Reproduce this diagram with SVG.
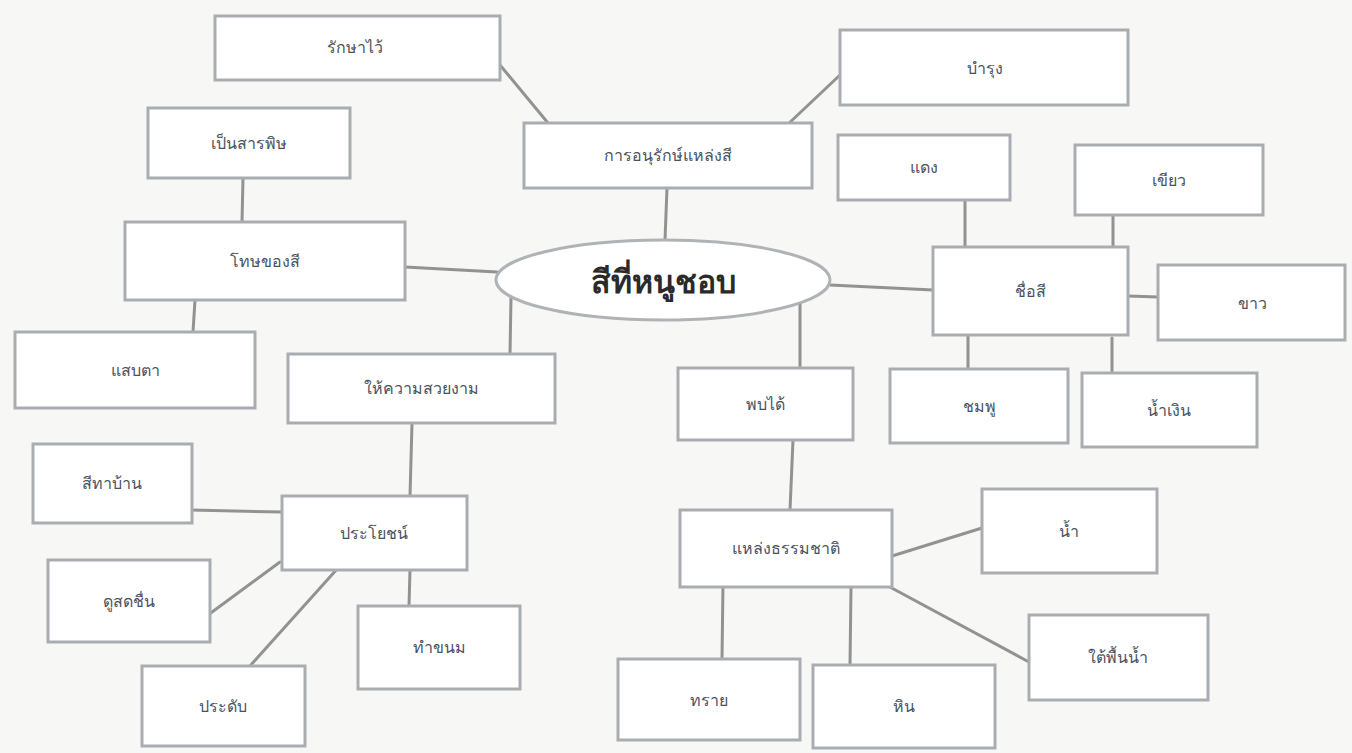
<svg xmlns="http://www.w3.org/2000/svg" width="1352" height="753" viewBox="0 0 1352 753">
<style>
.bg{fill:#f7f7f6}
.box{fill:#ffffff;stroke:#a9adb2;stroke-width:3}
.ell{fill:#ffffff;stroke:#b0b3b6;stroke-width:3}
.lab{font-family:"Noto Sans",sans-serif;font-size:16px;fill:#4a5262;text-anchor:middle;dominant-baseline:central}
.big{font-family:"Noto Sans",sans-serif;font-size:32px;font-weight:bold;fill:#2a2a2a;text-anchor:middle;dominant-baseline:central}
.con line{stroke:#929292;stroke-width:3;stroke-linecap:round}
</style>
<rect class="bg" x="0" y="0" width="1352" height="753"/>
<g id="connectors" class="con">
<line x1="500" y1="65" x2="548" y2="123"/>
<line x1="840" y1="75" x2="786" y2="126"/>
<line x1="667" y1="188" x2="665" y2="240"/>
<line x1="243" y1="178" x2="242" y2="222"/>
<line x1="405" y1="267" x2="497" y2="272"/>
<line x1="195" y1="300" x2="193" y2="332"/>
<line x1="511" y1="297" x2="510" y2="354"/>
<line x1="800" y1="303" x2="800" y2="368"/>
<line x1="830" y1="285" x2="933" y2="290"/>
<line x1="965" y1="200" x2="965" y2="247"/>
<line x1="1113" y1="214" x2="1113" y2="252"/>
<line x1="1128" y1="296" x2="1158" y2="297"/>
<line x1="968" y1="335" x2="968" y2="369"/>
<line x1="1112" y1="338" x2="1112" y2="373"/>
<line x1="412" y1="423" x2="410" y2="496"/>
<line x1="191" y1="510" x2="282" y2="512"/>
<line x1="280" y1="562" x2="208" y2="615"/>
<line x1="338" y1="568" x2="250" y2="666"/>
<line x1="410" y1="570" x2="409" y2="606"/>
<line x1="793" y1="440" x2="790" y2="510"/>
<line x1="892" y1="556" x2="982" y2="528"/>
<line x1="888" y1="586" x2="1029" y2="662"/>
<line x1="723" y1="584" x2="722" y2="659"/>
<line x1="851" y1="587" x2="850" y2="665"/>
</g>
<g id="center"><ellipse class="ell" cx="663" cy="280" rx="167" ry="40"/><text class="big" x="663" y="280">สีที่หนูชอบ</text></g>
<g id="n-raksa"><rect class="box" x="215" y="16" width="285" height="64"/><text class="lab" x="355" y="47">รักษาไว้</text></g>
<g id="n-bamrung"><rect class="box" x="840" y="30" width="288" height="75"/><text class="lab" x="985" y="68">บำรุง</text></g>
<g id="n-anurak"><rect class="box" x="524" y="123" width="288" height="65"/><text class="lab" x="668" y="155">การอนุรักษ์แหล่งสี</text></g>
<g id="n-sanpit"><rect class="box" x="148" y="108" width="202" height="70"/><text class="lab" x="249" y="143">เป็นสารพิษ</text></g>
<g id="n-thot"><rect class="box" x="125" y="222" width="280" height="78"/><text class="lab" x="265" y="261">โทษของสี</text></g>
<g id="n-daeng"><rect class="box" x="838" y="135" width="172" height="65"/><text class="lab" x="924" y="167">แดง</text></g>
<g id="n-khiao"><rect class="box" x="1075" y="145" width="188" height="70"/><text class="lab" x="1169" y="180">เขียว</text></g>
<g id="n-chue"><rect class="box" x="933" y="247" width="195" height="88"/><text class="lab" x="1030" y="291">ชื่อสี</text></g>
<g id="n-khao"><rect class="box" x="1158" y="265" width="187" height="75"/><text class="lab" x="1252" y="303">ขาว</text></g>
<g id="n-chomphu"><rect class="box" x="890" y="369" width="178" height="74"/><text class="lab" x="979" y="406">ชมพู</text></g>
<g id="n-namngoen"><rect class="box" x="1082" y="373" width="175" height="74"/><text class="lab" x="1169" y="410">น้ำเงิน</text></g>
<g id="n-saebta"><rect class="box" x="15" y="332" width="240" height="76"/><text class="lab" x="135" y="370">แสบตา</text></g>
<g id="n-suayngam"><rect class="box" x="288" y="354" width="267" height="69"/><text class="lab" x="421" y="388">ให้ความสวยงาม</text></g>
<g id="n-phop"><rect class="box" x="678" y="368" width="175" height="72"/><text class="lab" x="765" y="404">พบได้</text></g>
<g id="n-thaban"><rect class="box" x="33" y="444" width="159" height="79"/><text class="lab" x="112" y="483">สีทาบ้าน</text></g>
<g id="n-prayot"><rect class="box" x="282" y="496" width="185" height="74"/><text class="lab" x="374" y="533">ประโยชน์</text></g>
<g id="n-sotchuen"><rect class="box" x="48" y="560" width="162" height="82"/><text class="lab" x="129" y="601">ดูสดชื่น</text></g>
<g id="n-pradap"><rect class="box" x="142" y="666" width="163" height="80"/><text class="lab" x="223" y="706">ประดับ</text></g>
<g id="n-khanom"><rect class="box" x="358" y="606" width="162" height="83"/><text class="lab" x="439" y="647">ทำขนม</text></g>
<g id="n-laeng"><rect class="box" x="680" y="510" width="212" height="77"/><text class="lab" x="786" y="548">แหล่งธรรมชาติ</text></g>
<g id="n-nam"><rect class="box" x="982" y="489" width="175" height="84"/><text class="lab" x="1069" y="531">น้ำ</text></g>
<g id="n-taipuen"><rect class="box" x="1029" y="615" width="179" height="85"/><text class="lab" x="1118" y="657">ใต้พื้นน้ำ</text></g>
<g id="n-sai"><rect class="box" x="618" y="659" width="182" height="81"/><text class="lab" x="709" y="700">ทราย</text></g>
<g id="n-hin"><rect class="box" x="813" y="665" width="182" height="83"/><text class="lab" x="904" y="706">หิน</text></g>
</svg>
